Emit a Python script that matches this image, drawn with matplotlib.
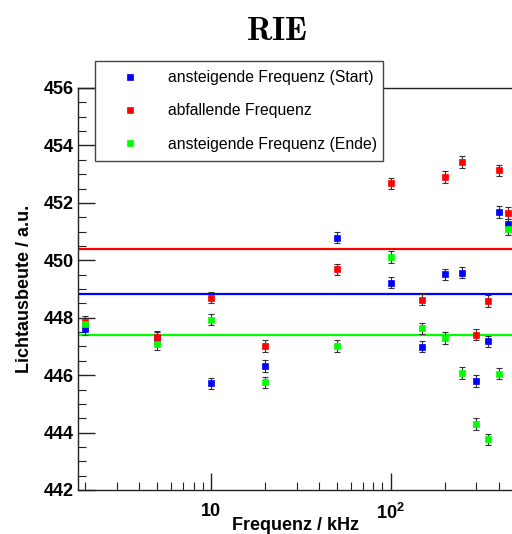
import matplotlib
matplotlib.use("Agg")
import matplotlib.pyplot as plt
from matplotlib.ticker import LogLocator, MultipleLocator, FixedLocator, FixedFormatter, NullFormatter

plt.rcParams['font.family'] = ['Liberation Sans', 'DejaVu Sans']
plt.rcParams['mathtext.fontset'] = 'custom'
plt.rcParams['mathtext.rm'] = 'Liberation Sans'
plt.rcParams['mathtext.bf'] = 'Liberation Sans:bold'

# Frequency steps in kHz
freq = [2, 5, 10, 20, 50, 100, 150, 200, 250, 300, 350, 400, 450]

# Light yield for each sweep (a.u.)
start_vals = [447.60, 447.30, 445.71, 446.32, 450.79, 449.22, 446.99, 449.51, 449.57, 445.79, 447.18, 451.68, 451.25]
down_vals = [447.86, 447.32, 448.70, 447.01, 449.68, 452.68, 448.63, 452.90, 453.43, 447.41, 448.58, 453.13, 451.64]
end_vals = [447.79, 447.09, 447.93, 445.75, 447.02, 450.11, 447.63, 447.30, 446.08, 444.30, 443.76, 446.05, 451.08]
err = 0.2

# Reference levels for each sweep
start_level = 448.81
down_level = 450.38
end_level = 447.41

labels = ["ansteigende Frequenz (Start)", "abfallende Frequenz", "ansteigende Frequenz (Ende)"]
colors = ["#0000ff", "#ff0000", "#00ff00"]

fig = plt.figure(figsize=(5.12, 5.34), dpi=100)
ax = fig.add_axes([78 / 512, 1 - 490 / 534, 1 - 78 / 512, (490 - 88) / 534])

ax.set_xscale('log')
ax.set_xlim(10 ** 0.2599, 10 ** 2.675)
ax.set_ylim(442, 456)

for lvl, c in zip([start_level, down_level, end_level], colors):
    ax.axhline(lvl, color=c, lw=1.6, zorder=2)

handles = []
for vals, c, lab in zip([start_vals, down_vals, end_vals], colors, labels):
    ax.errorbar(freq, vals, yerr=err, fmt='none', ecolor='#333333', elinewidth=0.8,
                capsize=2.2, capthick=0.8, zorder=3)
    h, = ax.plot(freq, vals, ls='none', marker='s', ms=5, mfc=c, mec=c, mew=0.5,
                 label=lab, zorder=4)
    handles.append(h)

ax.spines['right'].set_visible(False)
for side in ['left', 'bottom', 'top']:
    ax.spines[side].set_linewidth(1.0)
    ax.spines[side].set_color('#222222')

ax.yaxis.set_major_locator(MultipleLocator(2))
ax.yaxis.set_minor_locator(MultipleLocator(0.5))
ax.xaxis.set_major_locator(FixedLocator([10, 100]))
ax.xaxis.set_major_formatter(FixedFormatter(['10', r'$\mathbf{10^{2}}$']))
ax.xaxis.set_minor_locator(LogLocator(base=10, subs=range(2, 10), numticks=20))
ax.xaxis.set_minor_formatter(NullFormatter())

ax.tick_params(which='both', direction='in', top=False, right=False, color='#222222')
ax.tick_params(which='major', length=12, width=1.0, labelsize=13)
ax.tick_params(axis='y', which='major', pad=3)
ax.tick_params(axis='x', which='major', pad=9)
ax.tick_params(which='minor', length=6, width=0.8)
for t in ax.get_yticklabels() + ax.get_xticklabels():
    t.set_fontweight('bold')

ax.set_xlabel("Frequenz / kHz", fontsize=13, fontweight='bold', labelpad=-4)
ax.set_ylabel("Lichtausbeute / a.u.", fontsize=13, fontweight='bold', labelpad=8)

fig.text(277 / 512, 1 - 31 / 534, r'$\mathbf{RIE}$', fontsize=24, ha='center', va='center',
         math_fontfamily='cm')

leg = fig.legend(handles=handles, labels=labels, loc='upper left',
                 bbox_to_anchor=(95 / 512, 1 - 162 / 534, (383 - 95) / 512, (162 - 61) / 534),
                 mode='expand', borderaxespad=0, fontsize=11.3, markerscale=0.8,
                 handlelength=3.3, handletextpad=0.75, labelspacing=1.15,
                 borderpad=0.6, fancybox=False, framealpha=1, edgecolor='#444444')
leg.get_frame().set_linewidth(1.0)

fig.savefig("out.png", dpi=100)
